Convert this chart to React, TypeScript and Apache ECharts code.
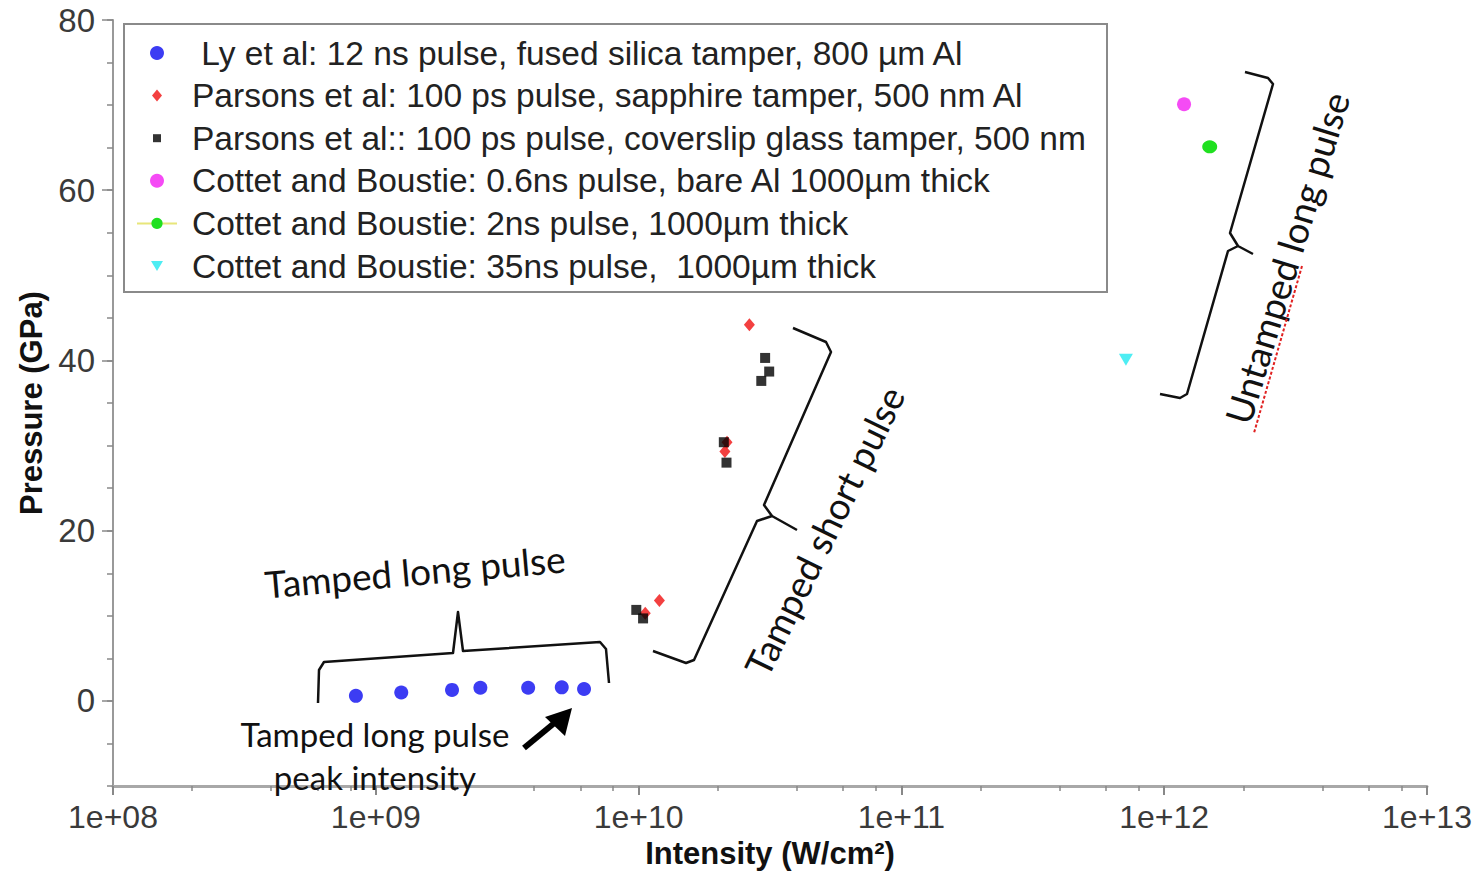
import React, { useEffect, useRef } from 'react';
import * as echarts from 'echarts';

// Measured pressure vs. laser intensity for aluminium targets
const lyIntensity = [8.4e8, 1.25e9, 1.95e9, 2.5e9, 3.8e9, 5.1e9, 6.2e9];
const lyPressure = [0.6, 1.0, 1.3, 1.55, 1.55, 1.6, 1.4];

const sapphireIntensity = [1.06e10, 1.2e10, 2.13e10, 2.17e10, 2.64e10];
const sapphirePressure = [10.3, 11.8, 29.3, 30.4, 44.2];

const coverslipIntensity = [9.8e9, 1.04e10, 2.11e10, 2.16e10, 2.93e10, 3.03e10, 3.14e10];
const coverslipPressure = [10.7, 9.7, 30.4, 28.0, 37.6, 40.3, 38.7];

const bare06Intensity = [1.19e12];
const bare06Pressure = [70.1];

const bare2Intensity = [1.49e12];
const bare2Pressure = [65.1];

const bare35Intensity = [7.15e11];
const bare35Pressure = [40.1];

const seriesNames = [
  ' Ly et al: 12 ns pulse, fused silica tamper, 800 µm Al',
  'Parsons et al: 100 ps pulse, sapphire tamper, 500 nm Al',
  'Parsons et al:: 100 ps pulse, coverslip glass tamper, 500 nm',
  'Cottet and Boustie: 0.6ns pulse, bare Al 1000µm thick',
  'Cottet and Boustie: 2ns pulse, 1000µm thick',
  'Cottet and Boustie: 35ns pulse,  1000µm thick',
];

const xMinorTicks = [8, 9, 10, 11, 12].flatMap((e) => [2, 4, 6, 8].map((m) => m * Math.pow(10, e)));
const yMajorTicks = [0, 20, 40, 60, 80];

const zip = (xs: number[], ys: number[]) => xs.map((x, i) => [x, ys[i]]);

const SANS = '"Liberation Sans", Arial, Helvetica, sans-serif';
const NOTE = 'Lato, "Open Sans", sans-serif';
const deg = (d: number) => (d * Math.PI) / 180;

const diamondIcon = 'path://M0 0M14 14M7 1L12 7L7 13L2 7Z';
const squareIcon = 'path://M0 0M14 14M3 3L11 3L11 11L3 11Z';
const triangleIcon = 'path://M0 0M14 14M1 2L13 2L7 12Z';

const braceStyle = { stroke: '#111', lineWidth: 2.5, fill: null as any, lineJoin: 'round' };

export default function App() {
  const ref = useRef<HTMLDivElement>(null);

  useEffect(() => {
    if (!ref.current) return;
    const chart = echarts.init(ref.current, undefined, { renderer: 'svg' });

    const option: any = {
      animation: false,
      backgroundColor: '#ffffff',
      grid: { left: 113, right: 56, top: 20, bottom: 82, containLabel: false },
      xAxis: [
        {
          type: 'log',
          logBase: 10,
          min: 1e8,
          max: 1e13,
          name: 'Intensity (W/cm²)',
          nameLocation: 'middle',
          nameGap: 50,
          nameTextStyle: { fontFamily: SANS, fontWeight: 'bold', fontSize: 31, color: '#111' },
          axisLine: { show: true, onZero: false, lineStyle: { color: '#a8a8a8', width: 3 } },
          axisTick: { show: true, length: 9, lineStyle: { color: '#888', width: 2 } },
          axisLabel: {
            margin: 15,
            fontFamily: SANS,
            fontSize: 32,
            color: '#3a3a3a',
            formatter: (v: number) => '1e+' + String(Math.round(Math.log10(v))).padStart(2, '0'),
          },
          splitLine: { show: false },
        },
        {
          type: 'log',
          logBase: 10,
          min: 1e8,
          max: 1e13,
          position: 'bottom',
          axisLine: { show: false, onZero: false },
          axisLabel: { show: false },
          axisTick: { show: true, length: 5, customValues: xMinorTicks, lineStyle: { color: '#888', width: 1.5 } },
          splitLine: { show: false },
        },
      ],
      yAxis: [
        {
          type: 'value',
          min: -10,
          max: 80,
          interval: 5,
          name: 'Pressure (GPa)',
          nameLocation: 'middle',
          nameGap: 64,
          nameRotate: 90,
          nameTextStyle: { fontFamily: SANS, fontWeight: 'bold', fontSize: 31, color: '#111' },
          axisLine: { show: true, lineStyle: { color: '#999', width: 2 } },
          axisTick: { show: true, length: 6, lineStyle: { color: '#888', width: 1.5 } },
          axisLabel: {
            margin: 18,
            fontFamily: SANS,
            fontSize: 33,
            color: '#3a3a3a',
            formatter: (v: number) => (v % 20 === 0 ? String(v) : ''),
          },
          splitLine: { show: false },
        },
        {
          type: 'value',
          min: -10,
          max: 80,
          interval: 5,
          position: 'left',
          axisLine: { show: false },
          axisLabel: { show: false },
          axisTick: { show: true, length: 11, customValues: yMajorTicks, lineStyle: { color: '#888', width: 1.5 } },
          splitLine: { show: false },
        },
      ],
      legend: {
        orient: 'vertical',
        left: 136,
        top: 36,
        padding: 0,
        itemWidth: 40,
        itemHeight: 14,
        itemGap: 8.6,
        selectedMode: false,
        textStyle: { fontFamily: SANS, fontSize: 33.5, color: '#222', lineHeight: 34, padding: [0, 0, 0, 10] },
        data: [
          { name: seriesNames[0], icon: 'circle' },
          { name: seriesNames[1], icon: diamondIcon },
          { name: seriesNames[2], icon: squareIcon },
          { name: seriesNames[3], icon: 'circle' },
          { name: seriesNames[4] },
          { name: seriesNames[5], icon: triangleIcon },
        ],
        z: 5,
      },
      series: [
        {
          name: seriesNames[0],
          type: 'scatter',
          data: zip(lyIntensity, lyPressure),
          symbol: 'circle',
          symbolSize: 14,
          itemStyle: { color: '#0b0bf0' },
        },
        {
          name: seriesNames[1],
          type: 'scatter',
          data: zip(sapphireIntensity, sapphirePressure),
          symbol: 'diamond',
          symbolSize: [11, 13],
          itemStyle: { color: '#f01010' },
        },
        {
          name: seriesNames[2],
          type: 'scatter',
          data: zip(coverslipIntensity, coverslipPressure),
          symbol: 'rect',
          symbolSize: 10,
          itemStyle: { color: '#000000' },
        },
        {
          name: seriesNames[3],
          type: 'scatter',
          data: zip(bare06Intensity, bare06Pressure),
          symbol: 'circle',
          symbolSize: 14,
          itemStyle: { color: '#f21ef2' },
        },
        {
          name: seriesNames[4],
          type: 'line',
          data: zip(bare2Intensity, bare2Pressure),
          symbol: 'circle',
          symbolSize: [15, 13],
          showSymbol: true,
          itemStyle: { color: '#20e020' },
          lineStyle: { color: '#e8e67a', width: 2 },
        },
        {
          name: seriesNames[5],
          type: 'scatter',
          data: zip(bare35Intensity, bare35Pressure),
          symbol: 'triangle',
          symbolRotate: 180,
          symbolSize: [14, 12],
          itemStyle: { color: '#22e8f0' },
        },
      ],
      graphic: [
        // legend frame
        {
          type: 'rect',
          z: 3,
          shape: { x: 124, y: 24, width: 983, height: 268 },
          style: { fill: '#ffffff', stroke: '#8a8a8a', lineWidth: 2 },
        },
        // "Tamped long pulse" group brace
        {
          type: 'polyline',
          z: 10,
          shape: {
            points: [
              [318, 703], [319, 670], [324, 662], [453, 653], [458, 612],
              [463, 651], [600, 642], [606, 649], [609, 683],
            ],
          },
          style: braceStyle,
        },
        {
          type: 'text',
          z: 10,
          x: 415,
          y: 571,
          rotation: deg(5),
          style: { text: 'Tamped long pulse', fontFamily: NOTE, fontSize: 37, fill: '#111', align: 'center', verticalAlign: 'middle' },
        },
        {
          type: 'text',
          z: 10,
          x: 375,
          y: 734,
          style: { text: 'Tamped long pulse', fontFamily: NOTE, fontSize: 33, fill: '#111', align: 'center', verticalAlign: 'middle' },
        },
        {
          type: 'text',
          z: 10,
          x: 375,
          y: 777,
          style: { text: 'peak intensity', fontFamily: NOTE, fontSize: 33, fill: '#111', align: 'center', verticalAlign: 'middle' },
        },
        // arrow pointing at the peak-intensity point
        {
          type: 'line',
          z: 10,
          shape: { x1: 524, y1: 748, x2: 558, y2: 720 },
          style: { stroke: '#000', lineWidth: 6 },
        },
        {
          type: 'polygon',
          z: 10,
          shape: { points: [[572, 708], [545, 717], [565, 736]] },
          style: { fill: '#000' },
        },
        // "Tamped short pulse" brace
        {
          type: 'polyline',
          z: 10,
          shape: { points: [[793, 328], [826, 342], [831, 352], [764, 505], [772, 516], [797, 530]] },
          style: braceStyle,
        },
        {
          type: 'polyline',
          z: 10,
          shape: { points: [[772, 516], [757, 521], [694, 660], [686, 663], [653, 651]] },
          style: braceStyle,
        },
        {
          type: 'text',
          z: 10,
          x: 824,
          y: 531,
          rotation: deg(64),
          style: { text: 'Tamped short pulse', fontFamily: NOTE, fontSize: 37, fill: '#111', align: 'center', verticalAlign: 'middle' },
        },
        // "Untamped long pulse" brace
        {
          type: 'polyline',
          z: 10,
          shape: { points: [[1245, 72], [1268, 78], [1273, 84], [1230, 233], [1238, 246], [1253, 254]] },
          style: braceStyle,
        },
        {
          type: 'polyline',
          z: 10,
          shape: { points: [[1238, 246], [1228, 251], [1187, 394], [1180, 398], [1160, 394]] },
          style: braceStyle,
        },
        {
          type: 'text',
          z: 10,
          x: 1287,
          y: 258,
          rotation: deg(73),
          style: { text: 'Untamped long pulse', fontFamily: NOTE, fontSize: 37, fill: '#111', align: 'center', verticalAlign: 'middle' },
        },
        {
          type: 'line',
          z: 10,
          shape: { x1: 1302, y1: 266, x2: 1254, y2: 433 },
          style: { stroke: '#e02020', lineWidth: 2, lineDash: [3, 2] },
        },
      ],
    };

    chart.setOption(option);
    return () => chart.dispose();
  }, []);

  return (
    <div
      ref={ref}
      style={{ position: 'fixed', left: 0, top: 0, width: 1483, height: 874, background: '#fff' }}
    />
  );
}
